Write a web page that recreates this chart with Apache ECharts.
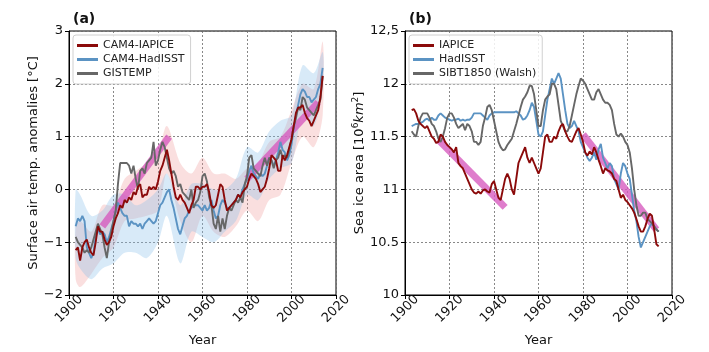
<!DOCTYPE html>
<html>
<head>
<meta charset="utf-8">
<script src="https://cdn.jsdelivr.net/npm/echarts@6/dist/echarts.min.js"></script>
<style>
  html, body { margin: 0; padding: 0; background: #fff; }
  #chart { width: 709px; height: 352px; }
</style>
</head>
<body>
<div id="chart"></div>
<script>
const firstYear = 1903;

// (a) surface air temperature anomalies, annual 1903-2014
const tasIapice = [
  -1.15, -1.1, -1.35, -1.1, -1.0, -0.95, -1.1, -1.2, -1.25, -1.0,
  -0.7, -0.8, -0.8, -0.95, -1.05, -1.0, -0.9, -0.7, -0.55, -0.45,
  -0.3, -0.35, -0.2, -0.25, -0.15, -0.2, -0.05, -0.1, 0.05, 0.1,
  -0.15, -0.1, -0.1, 0.05, 0.0, 0.05, 0.0, 0.15, 0.35, 0.45,
  0.6, 0.75, 0.55, 0.3, 0.05, -0.15, -0.2, -0.1, -0.2, -0.25,
  -0.35, -0.45, -0.3, -0.2, 0.05, 0.05, 0.0, 0.05, 0.05, 0.1,
  -0.05, -0.3, -0.35, -0.3, -0.1, 0.1, 0.05, -0.2, -0.4, -0.35,
  -0.3, -0.25, -0.2, -0.1, -0.15, -0.05, 0.0, 0.05, 0.2, 0.3,
  0.25, 0.2, 0.1, -0.05, 0.0, 0.05, 0.2, 0.4, 0.65, 0.6,
  0.55, 0.35, 0.35, 0.65, 0.55, 0.65, 0.8, 0.95, 1.2, 1.45,
  1.55, 1.55, 1.6, 1.45, 1.35, 1.3, 1.2, 1.3, 1.4, 1.5,
  1.75, 2.15
];
const tasHadisst = [
  -0.7, -0.55, -0.6, -0.5, -0.6, -1.1, -1.2, -1.3, -1.2, -0.9,
  -0.75, -0.85, -0.8, -0.85, -1.0, -0.9, -0.75, -0.6, -0.4, -0.25,
  -0.35, -0.45, -0.5, -0.5, -0.7, -0.6, -0.65, -0.65, -0.7, -0.65,
  -0.75, -0.65, -0.6, -0.55, -0.6, -0.65, -0.6, -0.45, -0.3, -0.25,
  -0.15, -0.05, 0.0, -0.2, -0.35, -0.55, -0.75, -0.85, -0.7, -0.55,
  -0.5, -0.4, -0.35, -0.3, -0.3, -0.3, -0.35, -0.4, -0.3, -0.4,
  -0.35, -0.2, -0.4, -0.55, -0.5, -0.3, -0.2, -0.25, -0.35, -0.35,
  -0.3, -0.25, -0.2, -0.1, -0.15, 0.0, 0.1, 0.2, 0.35, 0.45,
  0.3, 0.25, 0.2, 0.3, 0.25, 0.3, 0.45, 0.6, 0.55, 0.45,
  0.55, 0.7, 0.9, 0.75, 0.7, 0.55, 0.65, 0.85, 1.15, 1.4,
  1.6, 1.8, 1.9, 1.85, 1.75, 1.75, 1.65, 1.7, 1.75, 1.9,
  2.0, 2.3
];
const tasGistemp = [
  -0.9, -1.0, -1.05, -1.1, -1.2, -1.15, -1.2, -1.1, -0.95, -0.8,
  -0.65, -0.75, -0.85, -1.1, -1.3, -1.0, -0.8, -0.6, -0.4, 0.1,
  0.5, 0.5, 0.5, 0.5, 0.45, 0.3, 0.45, 0.2, 0.0, 0.35,
  0.4, 0.3, 0.5, 0.55, 0.6, 0.9, 0.45, 0.55, 0.75, 0.9,
  0.8, 0.6, 0.4, 0.3, 0.35, 0.25, 0.05, 0.1, -0.05, -0.1,
  -0.15, -0.2, 0.0, -0.35, -0.25, -0.2, -0.05, 0.25, 0.3, 0.15,
  -0.15, -0.3, -0.65, -0.75, -0.5, -0.8, -0.55, -0.75, -0.5, -0.35,
  -0.4, -0.3, -0.2, -0.25, -0.15, -0.25, 0.1, 0.25, 0.6, 0.65,
  0.4, 0.35, 0.3, 0.25, 0.45, 0.6, 0.45, 0.6, 0.55, 0.4,
  0.55, 0.6, 0.75, 0.6, 0.65, 0.6, 0.75, 0.95, 1.2, 1.35,
  1.55, 1.5, 1.75, 1.7, 1.55, 1.5, 1.45, 1.4, 1.5, 1.6,
  1.7, 2.15
];

// spread of the model ensembles (read every ~5 years)
const bandYears = [1903, 1905, 1910, 1915, 1920, 1925, 1930, 1935, 1940, 1944, 1950, 1955,
  1960, 1965, 1970, 1975, 1980, 1985, 1990, 1995, 2000, 2005, 2010, 2014];
const iapiceHigh = [-0.7, -0.6, -0.8, -0.3, -0.3, 0.2, 0.35, 0.5, 0.7, 1.2, 0.5, 0.3,
  0.6, 0.3, 0.3, 0.2, 0.4, 0.5, 0.9, 1.0, 1.5, 2.0, 1.9, 2.8];
const iapiceLow = [-1.7, -1.85, -1.6, -1.3, -1.1, -0.6, -0.55, -0.5, -0.4, 0.3, -0.6, -1.0,
  -0.5, -0.8, -0.9, -0.7, -0.4, -0.6, -0.2, -0.1, 0.5, 1.0, 0.8, 1.4];
const hadisstHigh = [0.0, -0.1, -0.5, -0.4, -0.1, -0.1, -0.3, -0.2, 0.0, 0.3, -0.3, 0.1,
  0.1, 0.0, 0.0, 0.2, 0.8, 0.7, 1.1, 1.3, 1.4, 2.35, 2.2, 2.6];
const hadisstLow = [-1.3, -1.5, -1.7, -1.5, -1.4, -1.2, -1.2, -1.3, -1.0, -0.5, -1.4, -0.8,
  -0.9, -1.0, -0.8, -0.6, -0.1, -0.2, 0.2, 0.4, 0.5, 1.4, 1.2, 1.9];

// linear trends [start, end]
const tasTrendEarly = [[1915, -0.7], [1945, 1.0]];
const tasTrendLate = [[1980, 0.2], [2012, 1.65]];

// (b) sea ice area, annual 1903-2014
const iceIapice = [
  11.75, 11.76, 11.72, 11.65, 11.62, 11.6, 11.58, 11.6, 11.55, 11.5,
  11.48, 11.44, 11.45, 11.52, 11.5, 11.45, 11.42, 11.4, 11.38, 11.35,
  11.4, 11.25, 11.22, 11.2, 11.15, 11.1, 11.05, 11.0, 10.97, 10.96,
  10.98, 10.96, 10.99, 11.0, 10.98, 10.97, 11.05, 11.08, 11.0, 10.92,
  10.9, 11.0, 11.1, 11.15, 11.1, 11.0, 10.95, 11.1, 11.25, 11.3,
  11.35, 11.4, 11.3, 11.25, 11.3, 11.25, 11.2, 11.15, 11.2, 11.35,
  11.5, 11.52, 11.45, 11.45, 11.5, 11.48, 11.55, 11.6, 11.62, 11.55,
  11.5, 11.46, 11.45, 11.5, 11.55, 11.58, 11.52, 11.45, 11.35, 11.32,
  11.36, 11.33, 11.4, 11.35, 11.28, 11.22, 11.15, 11.2, 11.18, 11.17,
  11.15, 11.1, 11.08, 11.0, 10.92, 10.95, 10.9, 10.88, 10.85, 10.82,
  10.78, 10.72, 10.65, 10.6, 10.6, 10.65, 10.72, 10.77, 10.75, 10.62,
  10.48, 10.46
];
const iceHadisst = [
  11.6, 11.61, 11.62, 11.62, 11.63, 11.64, 11.66, 11.67, 11.65, 11.68,
  11.66, 11.66, 11.7, 11.72, 11.7, 11.68, 11.67, 11.66, 11.65, 11.66,
  11.66, 11.67, 11.65, 11.66, 11.65, 11.66, 11.66, 11.68, 11.72, 11.72,
  11.72, 11.72, 11.7, 11.68, 11.66, 11.7, 11.72, 11.73, 11.73, 11.73,
  11.73, 11.73, 11.73, 11.73, 11.73, 11.73, 11.73, 11.74, 11.72, 11.7,
  11.66, 11.67, 11.7, 11.75, 11.82, 11.78, 11.65, 11.52, 11.5, 11.55,
  11.7, 11.85, 11.95, 12.05, 12.0, 12.05, 12.1, 12.05, 11.9, 11.75,
  11.62, 11.58, 11.6, 11.65, 11.6, 11.55, 11.45, 11.4, 11.35, 11.3,
  11.27, 11.3, 11.35, 11.28, 11.38, 11.43, 11.3, 11.25, 11.2, 11.25,
  11.22, 11.1, 11.05, 11.0, 11.15, 11.25, 11.22, 11.15, 11.1, 10.95,
  10.8, 10.7, 10.55, 10.45, 10.5, 10.55, 10.6, 10.65, 10.68, 10.65,
  10.62, 10.6
];
const iceWalsh = [
  11.55, 11.52, 11.5, 11.6, 11.68, 11.72, 11.72, 11.72, 11.68, 11.62,
  11.6, 11.55, 11.48, 11.45, 11.5, 11.58, 11.68, 11.72, 11.72, 11.68,
  11.62, 11.58, 11.6, 11.62, 11.56, 11.62, 11.6, 11.55, 11.45, 11.45,
  11.42, 11.45, 11.6, 11.68, 11.78, 11.8, 11.75, 11.65, 11.55, 11.45,
  11.4, 11.37, 11.38, 11.42, 11.45, 11.48, 11.55, 11.62, 11.7, 11.78,
  11.85, 11.88, 11.92, 11.98, 11.98, 11.9, 11.75, 11.6, 11.6, 11.75,
  11.85, 11.88, 11.9, 12.0, 12.0, 11.95, 11.8, 11.65, 11.6, 11.55,
  11.55, 11.6, 11.7, 11.8, 11.9, 11.98, 12.05, 12.03, 12.0, 11.95,
  11.9, 11.85, 11.85, 11.92, 11.95, 11.9, 11.85, 11.82, 11.82, 11.8,
  11.75, 11.62, 11.52, 11.5, 11.53, 11.5, 11.45, 11.42, 11.35, 11.2,
  11.0, 10.85, 10.75, 10.75, 10.78, 10.78, 10.72, 10.7, 10.68, 10.65,
  10.62, 10.6
];
const iceTrendEarly = [[1915, 11.47], [1945, 10.83]];
const iceTrendLate = [[1980, 11.52], [2013, 10.62]];

const RED = '#8b0a0a';
const BLUE = '#5b93c3';
const GRAY = '#676767';
const PINK = 'rgba(214, 88, 190, 0.78)';

function pairs(values) {
  return values.map((v, i) => [firstYear + i, v]);
}

function bandSeries(idx, high, low, color) {
  return {
    type: 'custom',
    xAxisIndex: idx, yAxisIndex: idx,
    silent: true,
    clip: true,
    data: bandYears.map((y, i) => [y, low[i], high[i]]),
    encode: { x: 0, y: [1, 2] },
    renderItem: function (params, api) {
      if (params.dataIndex !== 0) return null;
      const top = bandYears.map((y, i) => api.coord([y, high[i]]));
      const bottom = bandYears.map((y, i) => api.coord([y, low[i]])).reverse();
      return {
        type: 'polygon',
        shape: { points: top.concat(bottom), smooth: 0.3 },
        style: { fill: color }
      };
    }
  };
}

function lineSeries(idx, name, values, color) {
  return {
    name: name, type: 'line',
    xAxisIndex: idx, yAxisIndex: idx,
    data: pairs(values),
    showSymbol: false, symbol: 'none',
    lineStyle: { color: color, width: 1.9 },
    itemStyle: { color: color },
    emphasis: { disabled: true }
  };
}

function trendSeries(idx, coords) {
  return {
    type: 'line', xAxisIndex: idx, yAxisIndex: idx,
    data: coords, showSymbol: false, symbol: 'none', silent: true,
    lineStyle: { color: PINK, width: 7, cap: 'butt' }
  };
}

const gridLine = { show: true, lineStyle: { color: '#6a6a6a', type: [2, 2], width: 0.8 } };
const axisTxt = { color: '#111', fontSize: 13, fontFamily: 'DejaVu Sans' };

function xAxis(idx) {
  return {
    type: 'value', gridIndex: idx, min: 1900, max: 2020, interval: 20,
    name: 'Year', nameLocation: 'middle', nameGap: 39,
    nameTextStyle: { color: '#111', fontSize: 13, fontFamily: 'DejaVu Sans' },
    axisLine: { onZero: false, lineStyle: { color: '#000', width: 1 } },
    axisTick: { show: true, length: 4, lineStyle: { color: '#000' } },
    axisLabel: Object.assign({
      rotate: 45, margin: 14, align: 'center', verticalAlign: 'middle',
      formatter: v => String(v)
    }, axisTxt),
    splitLine: gridLine
  };
}

function legend(names, left) {
  return {
    data: names,
    orient: 'vertical', left: left, top: 35,
    icon: 'rect', itemWidth: 21, itemHeight: 3, itemGap: 3,
    padding: [5, 6, 5, 4],
    backgroundColor: 'rgba(255,255,255,0.85)', borderColor: '#d0d0d0', borderWidth: 1, borderRadius: 3,
    textStyle: { fontSize: 11, color: '#222', fontFamily: 'DejaVu Sans' }
  };
}

const chart = echarts.init(document.getElementById('chart'));

chart.setOption({
  animation: false,
  backgroundColor: '#fff',
  title: [
    { text: '(a)', left: 68, top: 7, textStyle: { fontSize: 14, fontWeight: 'bold', color: '#111', fontFamily: 'DejaVu Sans' } },
    { text: '(b)', left: 404, top: 7, textStyle: { fontSize: 14, fontWeight: 'bold', color: '#111', fontFamily: 'DejaVu Sans' } }
  ],
  grid: [
    { left: 69, top: 31, width: 267, height: 265, show: true, borderColor: '#000', borderWidth: 1 },
    { left: 405, top: 31, width: 267, height: 265, show: true, borderColor: '#000', borderWidth: 1 }
  ],
  legend: [
    legend(['CAM4-IAPICE', 'CAM4-HadISST', 'GISTEMP'], 73),
    legend(['IAPICE', 'HadISST', 'SIBT1850 (Walsh)'], 409)
  ],
  xAxis: [xAxis(0), xAxis(1)],
  yAxis: [
    {
      type: 'value', gridIndex: 0, min: -2, max: 3, interval: 1,
      name: 'Surface air temp. anomalies [°C]', nameLocation: 'middle', nameGap: 18,
      nameTextStyle: { color: '#111', fontSize: 13, fontFamily: 'DejaVu Sans' },
      axisLine: { show: true, onZero: false, lineStyle: { color: '#000' } },
      axisTick: { show: true, length: 4, lineStyle: { color: '#000' } },
      axisLabel: Object.assign({ margin: 6, formatter: v => String(v).replace('-', '\u2212') }, axisTxt),
      splitLine: gridLine
    },
    {
      type: 'value', gridIndex: 1, min: 10, max: 12.5, interval: 0.5,
      name: '{t|Sea ice area [10}{s|6}{i|km}{s|2}{t|]}', nameLocation: 'middle', nameGap: 27,
      nameTextStyle: {
        color: '#111', fontSize: 13, fontFamily: 'DejaVu Sans',
        rich: {
          t: { fontSize: 13, fontFamily: 'DejaVu Sans', color: '#111' },
          i: { fontSize: 13, fontFamily: 'DejaVu Sans', fontStyle: 'italic', color: '#111' },
          s: { fontSize: 9, fontFamily: 'DejaVu Sans', color: '#111', verticalAlign: 'top', padding: [0, 0, 8, 0] }
        }
      },
      axisLine: { show: true, onZero: false, lineStyle: { color: '#000' } },
      axisTick: { show: true, length: 4, lineStyle: { color: '#000' } },
      axisLabel: Object.assign({ margin: 6, formatter: v => v === 12.5 ? '12,5' : String(v) }, axisTxt),
      splitLine: gridLine
    }
  ],
  series: [
    bandSeries(0, iapiceHigh, iapiceLow, 'rgba(238, 140, 140, 0.28)'),
    bandSeries(0, hadisstHigh, hadisstLow, 'rgba(135, 190, 232, 0.32)'),
    trendSeries(0, tasTrendEarly),
    trendSeries(0, tasTrendLate),
    lineSeries(0, 'CAM4-HadISST', tasHadisst, BLUE),
    lineSeries(0, 'GISTEMP', tasGistemp, GRAY),
    lineSeries(0, 'CAM4-IAPICE', tasIapice, RED),
    trendSeries(1, iceTrendEarly),
    trendSeries(1, iceTrendLate),
    lineSeries(1, 'HadISST', iceHadisst, BLUE),
    lineSeries(1, 'SIBT1850 (Walsh)', iceWalsh, GRAY),
    lineSeries(1, 'IAPICE', iceIapice, RED)
  ]
});

window.addEventListener('resize', () => chart.resize());
</script>
</body>
</html>
